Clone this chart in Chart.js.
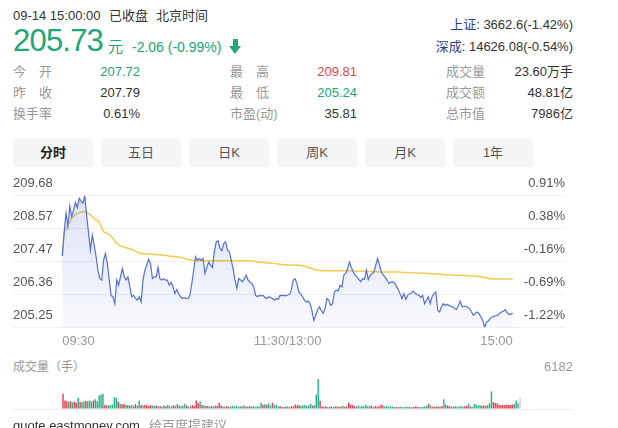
<!DOCTYPE html>
<html>
<head>
<meta charset="utf-8">
<script src="https://cdn.jsdelivr.net/npm/chart.js@4.4.0/dist/chart.umd.min.js"></script>
<style>
  html, body { margin: 0; padding: 0; background: #fff; }
  body { width: 618px; height: 428px; position: relative; overflow: hidden;
         font-family: "Liberation Sans", Arial, "Noto Sans CJK SC", sans-serif; color: #333; }
  .t { position: absolute; white-space: nowrap; line-height: 20px; font-size: 13px; }
  .lbl { color: #999; }
  .g { color: #20a677; }
  .r { color: #e8424e; }
  .idx { color: #2f3f8f; }
  .tab { position: absolute; top: 139px; width: 80px; height: 28px; line-height: 28px; text-align: center;
         background: #f4f5f7; border-radius: 4px; font-size: 13px; color: #555; }
  .stem { position: absolute; left: 233px; top: 39px; width: 5px; height: 8px; background: #20a677; }
  .head { position: absolute; left: 229px; top: 46px; width: 0; height: 0;
          border-left: 6.5px solid transparent; border-right: 6.5px solid transparent; border-top: 8px solid #20a677; }
  canvas { position: absolute; left: 0; }
</style>
</head>
<body>
<!-- header -->
<div class="t" style="left:13px;top:6px">09-14 15:00:00</div>
<div class="t" style="left:109px;top:6px">已收盘</div>
<div class="t" style="left:156px;top:6px">北京时间</div>
<div class="t g" style="left:13px;top:23px;font-size:31px;line-height:36px;letter-spacing:-0.8px">205.73</div>
<div class="t g" style="left:108px;top:37px;font-size:15px">元</div>
<div class="t g" style="left:132px;top:37px;font-size:14px">-2.06 (-0.99%)</div>
<div class="stem"></div><div class="head"></div>

<div class="t" style="right:45px;top:15px"><span class="idx">上证</span>: 3662.6(-1.42%)</div>
<div class="t" style="right:45px;top:37px"><span class="idx">深成</span>: 14626.08(-0.54%)</div>

<div class="t lbl" style="left:13px;top:62px">今　开</div>
<div class="t g" style="right:478px;top:62px">207.72</div>
<div class="t lbl" style="left:230px;top:62px">最　高</div>
<div class="t r" style="right:261px;top:62px">209.81</div>
<div class="t lbl" style="left:446px;top:62px">成交量</div>
<div class="t" style="right:45px;top:62px">23.60万手</div>

<div class="t lbl" style="left:13px;top:83px">昨　收</div>
<div class="t" style="right:478px;top:83px">207.79</div>
<div class="t lbl" style="left:230px;top:83px">最　低</div>
<div class="t g" style="right:261px;top:83px">205.24</div>
<div class="t lbl" style="left:446px;top:83px">成交额</div>
<div class="t" style="right:45px;top:83px">48.81亿</div>

<div class="t lbl" style="left:13px;top:104px">换手率</div>
<div class="t" style="right:478px;top:104px">0.61%</div>
<div class="t lbl" style="left:230px;top:104px">市盈(动)</div>
<div class="t" style="right:261px;top:104px">35.81</div>
<div class="t lbl" style="left:446px;top:104px">总市值</div>
<div class="t" style="right:45px;top:104px">7986亿</div>

<!-- tabs -->
<div class="tab" style="left:13px;font-weight:bold;color:#222">分时</div>
<div class="tab" style="left:101px">五日</div>
<div class="tab" style="left:189px">日K</div>
<div class="tab" style="left:277px">周K</div>
<div class="tab" style="left:365px">月K</div>
<div class="tab" style="left:453px">1年</div>

<canvas id="priceChart" width="618" height="180" style="top:170px"></canvas>
<div class="t lbl" style="left:13px;top:357px;font-size:12px">成交量（手）</div>
<canvas id="volChart" width="618" height="78" style="top:350px"></canvas>

<div class="t" style="left:13px;top:416px">quote.eastmoney.com</div>
<div class="t lbl" style="left:149px;top:416px">给百度提建议</div>

<script>
// one value per minute, 09:30 .. 11:30/13:00 .. 15:00
const prices = [
  207.72, 208.55, 209.20, 208.75, 209.45, 209.08, 209.30, 209.57, 209.40, 209.72,
  209.62, 209.55, 209.81, 209.10, 208.50, 207.92, 208.44, 208.09, 207.69, 207.22,
  206.93, 206.88, 207.57, 207.80, 207.46, 206.88, 206.35, 206.30, 206.06, 206.88,
  206.70, 206.99, 207.28, 207.00, 206.88, 206.99, 206.64, 206.30, 206.35, 206.25,
  206.18, 206.30, 206.12, 206.88, 207.22, 207.40, 207.60, 207.46, 206.93, 206.99,
  206.99, 207.32, 206.93, 206.88, 206.93, 206.88, 206.88, 206.70, 206.80, 206.64,
  206.41, 206.55, 206.41, 206.30, 206.24, 206.27, 206.24, 206.24, 206.35, 206.76,
  207.22, 207.69, 207.57, 207.63, 207.57, 207.63, 207.11, 207.32, 207.51, 207.40,
  207.32, 207.86, 208.21, 208.24, 207.98, 207.90, 208.15, 208.21, 207.92, 207.86,
  207.57, 207.28, 206.88, 206.59, 206.93, 206.88, 206.82, 206.93, 207.05, 206.88,
  206.80, 206.76, 206.64, 206.35, 206.30, 206.35, 206.33, 206.35, 206.27, 206.24,
  206.30, 206.27, 206.24, 206.18, 206.24, 206.21, 206.35, 206.34, 206.35, 206.33,
  206.36, 206.38, 206.53, 206.88, 206.93, 206.76, 206.47, 206.40, 206.30, 206.18,
  206.12, 206.15, 206.06, 205.83, 205.48, 205.66, 205.83, 205.95, 205.83, 205.72,
  205.89, 206.24, 206.18, 206.00, 206.06, 206.47, 206.53, 206.50, 206.70, 206.64,
  207.05, 207.11, 207.28, 207.51, 207.32, 207.16, 207.05, 206.99, 206.90, 206.82,
  206.93, 206.90, 207.22, 206.90, 207.05, 207.10, 207.16, 207.40, 207.63, 207.40,
  207.16, 207.05, 206.99, 206.88, 206.76, 206.80, 206.82, 206.78, 206.66, 206.55,
  206.40, 206.24, 206.41, 206.21, 206.35, 206.40, 206.43, 206.50, 206.41, 206.38,
  206.35, 206.27, 206.35, 206.06, 206.18, 206.30, 206.06, 206.30, 206.41, 206.47,
  205.83, 205.77, 205.95, 206.06, 206.00, 206.04, 206.00, 205.97, 205.95, 205.89,
  205.86, 206.00, 206.15, 205.95, 205.97, 205.97, 205.93, 205.89, 205.77, 205.66,
  205.72, 205.77, 205.72, 205.60, 205.48, 205.24, 205.42, 205.46, 205.55, 205.60,
  205.62, 205.64, 205.66, 205.72, 205.77, 205.80, 205.85, 205.74, 205.69, 205.69,
  205.73
];
// average price line, read at a few minutes
const avgAt = [0, 1, 2, 4, 6, 12, 14, 17, 20, 22, 24, 27, 29, 33, 38, 42, 48, 58, 63, 69, 74,
  100, 104, 112, 120, 124, 129, 133, 136, 143, 151, 160, 169, 177, 186, 195, 203, 212, 224, 228, 235, 240];
const avgPrices = [207.75, 208.45, 208.65, 208.9, 209.1, 209.25, 209.2, 209.02, 208.85, 208.56, 208.5,
  208.33, 208.15, 208.03, 207.92, 207.8, 207.78, 207.71, 207.67, 207.57, 207.55, 207.55, 207.51, 207.46,
  207.40, 207.40, 207.36, 207.28, 207.22, 207.2, 207.2, 207.19, 207.16, 207.16, 207.13, 207.11, 207.07,
  207.05, 206.99, 206.93, 206.92, 206.91];
const volumes = [
  3150, 1750, 1600, 1500, 1600, 1400, 1500, 1300, 2300, 1500,
  1400, 1600, 1700, 1600, 1750, 1500, 1750, 2000, 1600, 2800,
  3000, 3150, 900, 700, 750, 800, 900, 2450, 2300, 1500,
  1100, 1000, 1050, 900, 800, 700, 800, 650, 1000, 700,
  1750, 850, 700, 800, 750, 600, 800, 700, 650, 700,
  500, 600, 450, 700, 550, 800, 600, 500, 750, 650,
  1000, 700, 550, 600, 1100, 700, 500, 650, 800, 600,
  1750, 1200, 1600, 800, 700, 600, 650, 500, 600, 550,
  700, 600, 1300, 700, 500, 450, 600, 400, 550, 700,
  500, 650, 450, 600, 500, 700, 550, 450, 600, 500,
  650, 400, 550, 500, 1300, 900, 1000, 800, 1200, 700,
  1300, 800, 900, 500, 600, 450, 400, 550, 500, 450,
  600, 500, 900, 700, 800, 600, 700, 800, 600, 700,
  1050, 700, 800, 3000, 6182, 1750, 500, 450, 600, 400,
  500, 500, 400, 600, 500, 400, 500, 600, 450, 550,
  1300, 900, 800, 600, 500, 700, 450, 600, 550, 900,
  500, 650, 700, 450, 600, 500, 550, 900, 700, 500,
  600, 450, 550, 500, 400, 400, 350, 450, 400, 350,
  500, 400, 450, 350, 400, 500, 450, 400, 350, 450,
  500, 600, 1050, 700, 500, 450, 550, 500, 450, 600,
  2000, 900, 700, 600, 500, 450, 550, 500, 400, 600,
  500, 550, 650, 1050, 500, 450, 1050, 900, 700, 800,
  600, 700, 650, 800, 1200, 3650, 1400, 1300, 1200, 900,
  800, 850, 800, 900, 850, 800, 900, 1000, 1750, 1200,
  2300
];
const priceTicks = ["209.68", "208.57", "207.47", "206.36", "205.25"];
const pctTicks = ["0.91%", "0.38%", "-0.16%", "-0.69%", "-1.22%"];
const timeLabels = ["09:30", "11:30/13:00", "15:00"];
const timeAt = [0, 120, 240];

Chart.defaults.font.family = '"Liberation Sans", Arial, "Noto Sans CJK SC", sans-serif';
Chart.defaults.font.size = 13;

const UP = "#ec3a4b", DOWN = "#22b38a", FLAT = "#8c8c8c";
const hi = Math.max(...prices), lo = Math.min(...prices);
const volMax = Math.max(...volumes);

// empty room left and right of the session, in minutes
const xAxis = { type: "linear", min: -26.26, max: prices.length - 1 + 27.83, offset: false, display: false };

const evenTicks = (n) => (axis) => {
	axis.ticks = Array.from({ length: n }, (_, i) => ({ value: lo + (i * (hi - lo)) / (n - 1) }));
};

const timeAxis = {
	id: "timeAxis",
	afterDraw(chart) {
		const { ctx, chartArea, scales } = chart;
		const aligns = ["left", "center", "right"];
		ctx.save();
		ctx.font = '13px "Liberation Sans", Arial, sans-serif';
		ctx.fillStyle = "#999";
		ctx.textBaseline = "middle";
		timeLabels.forEach((t, k) => {
			ctx.textAlign = aligns[k];
			ctx.fillText(t, scales.x.getPixelForValue(timeAt[k]), chartArea.bottom + 14);
		});
		ctx.restore();
	},
};

new Chart(document.getElementById("priceChart"), {
	type: "line",
	data: {
		datasets: [
			{
				data: prices.map((p, i) => ({ x: i, y: p })),
				borderColor: "#5470d6",
				borderWidth: 1.2,
				pointRadius: 0,
				tension: 0,
				fill: "start",
				backgroundColor: (c) => {
					const { ctx, chartArea } = c.chart;
					if (!chartArea) return "rgba(84,112,214,0.1)";
					const g = ctx.createLinearGradient(0, chartArea.top, 0, chartArea.bottom);
					g.addColorStop(0, "rgba(84,112,214,0.20)");
					g.addColorStop(1, "rgba(84,112,214,0.04)");
					return g;
				},
			},
			{
				data: avgAt.map((m, i) => ({ x: m, y: avgPrices[i] })),
				borderColor: "#f5c94c",
				borderWidth: 1.5,
				pointRadius: 0,
				cubicInterpolationMode: "monotone",
				fill: false,
			},
		],
	},
	options: {
		responsive: false,
		animation: false,
		layout: { padding: { left: 13, right: 45, top: 25.7, bottom: 22.7 } },
		plugins: { legend: { display: false }, tooltip: { enabled: false } },
		scales: {
			x: xAxis,
			y: {
				min: lo,
				max: hi,
				afterBuildTicks: evenTicks(5),
				ticks: { mirror: true, padding: 0, labelOffset: -12, color: "#555",
					callback: (v, i) => priceTicks[priceTicks.length - 1 - i] },
				grid: { color: "#f0f0f0", drawTicks: false },
				border: { display: false },
			},
			y2: {
				position: "right",
				min: lo,
				max: hi,
				afterBuildTicks: evenTicks(5),
				ticks: { mirror: true, padding: 0, labelOffset: -12, color: "#555",
					callback: (v, i) => pctTicks[pctTicks.length - 1 - i] },
				grid: { display: false },
				border: { display: false },
			},
		},
	},
	plugins: [timeAxis],
});

// red when the minute closed higher, green lower, grey flat; last bar is the closing auction
const volColors = prices.map((p, i) => {
	if (i === prices.length - 1) return "#cfcfcf";
	if (i === 0) return UP;
	return p > prices[i - 1] ? UP : p < prices[i - 1] ? DOWN : FLAT;
});

new Chart(document.getElementById("volChart"), {
	type: "bar",
	data: {
		datasets: [
			{
				data: volumes.map((v, i) => ({ x: i, y: v })),
				backgroundColor: volColors,
				barPercentage: 1,
				categoryPercentage: 0.75,
			},
		],
	},
	options: {
		responsive: false,
		animation: false,
		layout: { padding: { left: 13, right: 45, top: 29, bottom: 19 } },
		plugins: { legend: { display: false }, tooltip: { enabled: false } },
		scales: {
			x: { ...xAxis },
			y: {
				position: "right",
				min: 0,
				max: volMax,
				afterBuildTicks: (axis) => { axis.ticks = [{ value: 0 }, { value: volMax }]; },
				ticks: { mirror: true, padding: 0, labelOffset: -12, color: "#999",
					callback: (v) => (v === volMax ? String(volMax) : "") },
				grid: { drawTicks: false, color: (c) => (c.tick && c.tick.value === 0 ? "#ececec" : "rgba(0,0,0,0)") },
				border: { display: false },
			},
		},
	},
});
</script>
</body>
</html>
